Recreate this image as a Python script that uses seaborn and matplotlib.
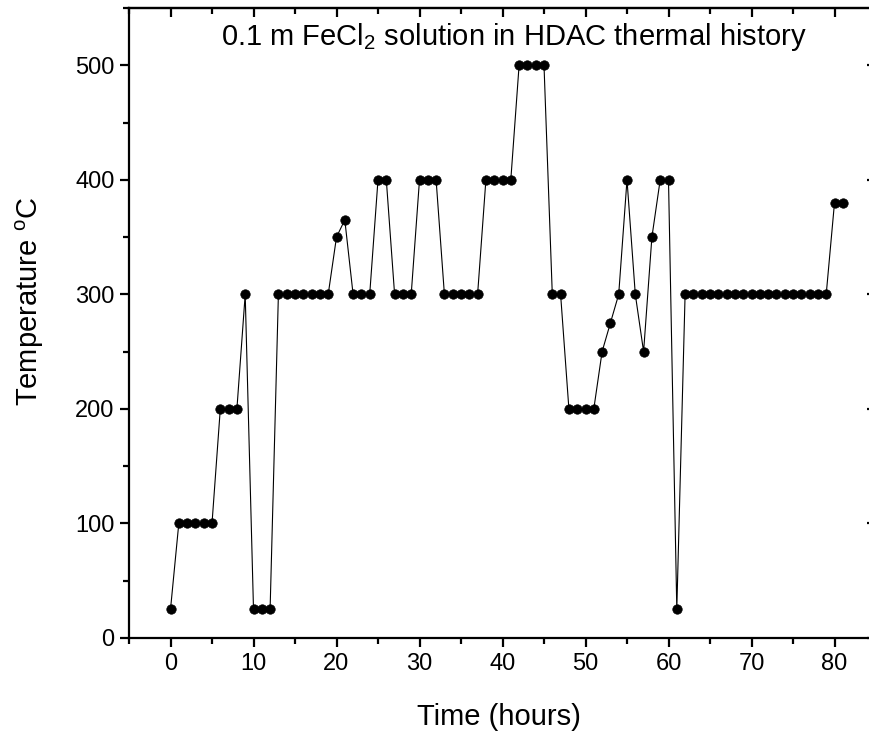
import matplotlib
matplotlib.use("Agg")
import matplotlib.pyplot as plt
from matplotlib.ticker import MultipleLocator
import seaborn as sns
import pandas as pd

hours = list(range(0, 82))
temperature = [25,
               100, 100, 100, 100, 100,
               200, 200, 200,
               300,
               25, 25, 25,
               300, 300, 300, 300, 300, 300, 300,
               350, 365,
               300, 300, 300,
               400, 400,
               300, 300, 300,
               400, 400, 400,
               300, 300, 300, 300, 300,
               400, 400, 400, 400,
               500, 500, 500, 500,
               300, 300,
               200, 200, 200, 200,
               250, 275, 300, 400, 300, 250, 350, 400, 400,
               25,
               300, 300, 300, 300, 300, 300, 300, 300, 300,
               300, 300, 300, 300, 300, 300, 300, 300, 300,
               380, 380]
x_ticks = [0, 10, 20, 30, 40, 50, 60, 70, 80]
y_ticks = [0, 100, 200, 300, 400, 500]
title_text = "0.1 m FeCl$_2$ solution in HDAC thermal history"
x_label = "Time (hours)"
y_label = "Temperature $^{o}$C"

df = pd.DataFrame({"Time": hours, "Temp": temperature})

sns.set_theme(style="ticks")
plt.rcParams["font.family"] = ["Liberation Sans", "DejaVu Sans"]
plt.rcParams["mathtext.fontset"] = "custom"
plt.rcParams["mathtext.rm"] = "Liberation Sans"
plt.rcParams["mathtext.it"] = "Liberation Sans"
plt.rcParams["mathtext.default"] = "regular"
plt.rcParams["text.color"] = "black"
plt.rcParams["axes.labelcolor"] = "black"
plt.rcParams["xtick.color"] = "black"
plt.rcParams["ytick.color"] = "black"

W, H = 869, 735
fig = plt.figure(figsize=(W / 100, H / 100), dpi=100)
L, R, B, T = 129, 876, 638, 8
ax = fig.add_axes([L / W, (H - B) / H, (R - L) / W, (B - T) / H])

sns.lineplot(data=df, x="Time", y="Temp", ax=ax, color="black", linewidth=0.8,
             marker="o", markersize=6.8, markeredgecolor="black",
             markerfacecolor="black", markeredgewidth=0.5)

ax.set_xlim(-5, 85)
ax.set_ylim(0, 550)
ax.set_xticks(x_ticks)
ax.set_yticks(y_ticks)
ax.xaxis.set_minor_locator(MultipleLocator(5))
ax.yaxis.set_minor_locator(MultipleLocator(50))

for s in ax.spines.values():
    s.set_linewidth(1.6)
    s.set_color("black")

ax.tick_params(axis="both", which="major", direction="out", length=6.5, width=1.6,
               labelsize=17, colors="black", pad=4)
ax.tick_params(axis="both", which="minor", direction="out", length=4, width=1.6)

# top/right ticks pointing inward
secx = ax.secondary_xaxis("top")
secx.set_xticks(x_ticks)
secx.xaxis.set_minor_locator(MultipleLocator(5))
secx.tick_params(which="major", direction="in", length=6.5, width=1.6, labeltop=False)
secx.tick_params(which="minor", direction="in", length=4, width=1.6)
secx.spines["top"].set_linewidth(1.6)
secy = ax.secondary_yaxis("right")
secy.set_yticks(y_ticks)
secy.yaxis.set_minor_locator(MultipleLocator(50))
secy.tick_params(which="major", direction="in", length=6.5, width=1.6, labelright=False)
secy.tick_params(which="minor", direction="in", length=4, width=1.6)

ax.set_xlabel(x_label, fontsize=21, color="black")
ax.set_ylabel(y_label, fontsize=21, color="black")
ax.xaxis.label.set_va("center")
ax.yaxis.label.set_va("center")
ax.xaxis.set_label_coords((499 - L) / (R - L), (H - 717 - (H - B)) / (B - T))
ax.yaxis.set_label_coords((30 - L) / (R - L), (H - 301 - (H - B)) / (B - T))

ax.text((514 - L) / (R - L), (H - 45 - (H - B)) / (B - T), title_text,
        transform=ax.transAxes, ha="center", va="baseline", fontsize=21, color="black")

fig.savefig("out.png", dpi=100)
